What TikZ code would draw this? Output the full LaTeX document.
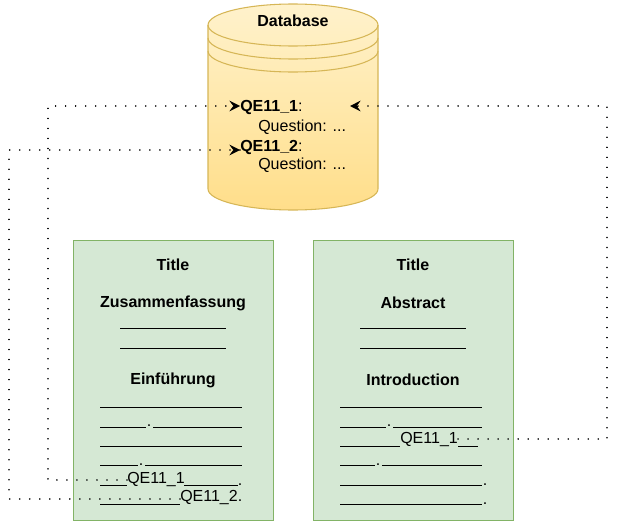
\documentclass[tikz,border=0pt]{standalone}
\usepackage{fontspec}
\setmainfont{Liberation Sans}
\usetikzlibrary{arrows.meta}
\begin{document}
\begin{tikzpicture}[x=0.75pt,y=-0.75pt,
  every node/.style={font=\fontsize{12}{14}\selectfont, inner sep=0pt},
  paper/.style={fill=gfill, draw=gstroke, line width=0.8pt},
  conn/.style={line width=1.2pt, dash pattern=on 0.01pt off 7.5pt, line cap=round},
  tip/.style={-{Stealth[length=8pt,width=8pt,inset=3pt]}},
  ul/.style={line width=0.7pt},
  bt/.style={font=\bfseries\fontsize{12}{14}\selectfont}]
\definecolor{gfill}{HTML}{D5E8D4}
\definecolor{gstroke}{HTML}{82B366}
\definecolor{yfill}{HTML}{FFF2CC}
\definecolor{yfill2}{HTML}{FFDE8A}
\definecolor{ystroke}{HTML}{D6B656}
\useasboundingbox (0,0) rectangle (617,521);
% database
\path[top color=yfill, bottom color=yfill2, draw=ystroke, line width=0.8pt]
  (208,25) -- (208,189) arc[start angle=180,end angle=0,x radius=85,y radius=21]
  -- (378,25) arc[start angle=0,end angle=-180,x radius=85,y radius=21] -- cycle;
\draw[ystroke, line width=0.8pt] (208,25) arc[start angle=180,end angle=0,x radius=85,y radius=21];
\draw[ystroke, line width=0.8pt] (208,38) arc[start angle=180,end angle=0,x radius=85,y radius=21];
\draw[ystroke, line width=0.8pt] (208,51) arc[start angle=180,end angle=0,x radius=85,y radius=21];
\node[bt] (db) at (293,21) {Database};
\node[anchor=base west] (q1) at (240,111) {\textbf{QE11\_1}:};
\node[anchor=base west] (q1b) at (258,131) {Question: ...};
\node[anchor=base west] (q2) at (240,151) {\textbf{QE11\_2}:};
\node[anchor=base west] (q2b) at (258,169) {Question: ...};
\coordinate (q1r) at (350,106);
% boxes
\node[paper, minimum width=200*0.75pt, minimum height=280*0.75pt, anchor=north west] (L) at (73,240) {};
\node[paper, minimum width=200*0.75pt, minimum height=280*0.75pt, anchor=north west] (R) at (313,240) {};
\node[bt] (lt) at (173,265) {Title};
\node[bt] (lz) at (173,303) {Zusammenfassung};
\node[bt] (le) at (173,380) {Einführung};
\node[bt] (rt) at (413,265) {Title};
\node[bt] (ra) at (413,303) {Abstract};
\node[bt] (ri) at (413,380) {Introduction};
\draw[ul] (120,328)--(226,328) (120,348)--(226,348) (360,328)--(466,328) (360,348)--(466,348);
% left body lines
\draw[ul] (100,407)--(242,407) (100,427)--(146,427) (153,427)--(242,427)
  (100,446)--(242,446) (100,465)--(138,465) (145,465)--(242,465)
  (100,485)--(127,485) (184,485)--(238,485) (100,504)--(180,504);
\node[anchor=base] at (149,426) {.};
\node[anchor=base] at (141,465) {.};
\node[anchor=base west] (lq1) at (127,483) {QE11\_1};
\node[anchor=base] at (240,485) {.};
\node[anchor=base west] (lq2) at (180,501) {QE11\_2.};
% right body lines
\draw[ul] (340,407)--(482,407) (340,427)--(386,427) (393,427)--(482,427)
  (340,446)--(400,446) (458,446)--(478,446) (340,465)--(375,465) (382,465)--(482,465)
  (340,485)--(482,485) (340,504)--(482,504);
\node[anchor=base] at (389,426) {.};
\node[anchor=base] at (378,465) {.};
\node[anchor=base west] (rq1) at (400,443) {QE11\_1};
\node[anchor=base] at (485,485) {.};
\node[anchor=base] at (485,504) {.};
% connectors
\draw[conn] (lq1.west |- 0,480) -- (48,480) -- (48,106) -- (q1.west |- 0,106);
\draw[tip] (234,106) -- (q1.west |- 0,106);
\draw[conn] (lq2.west |- 0,499) -- (9,499) -- (9,150) -- (q2.west |- 0,150);
\draw[tip] (234,150) -- (q2.west |- 0,150);
\draw[conn] (rq1.east |- 0,439) -- (607,439) -- (607,106) -- (q1r);
\draw[tip] (358,106) -- (q1r);
\end{tikzpicture}
\end{document}
